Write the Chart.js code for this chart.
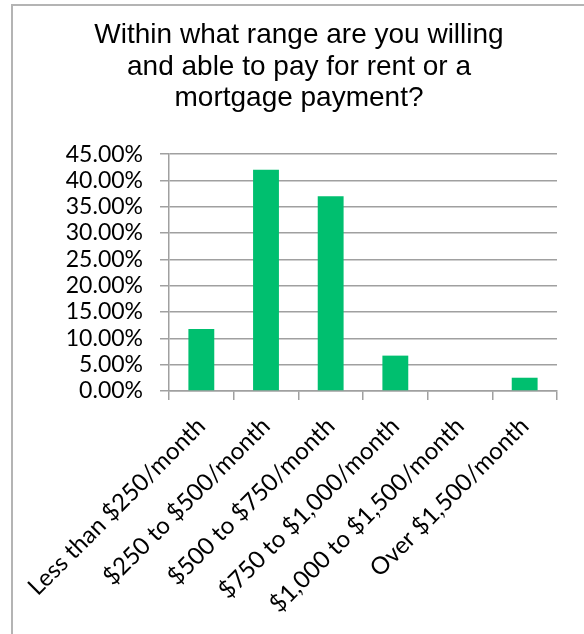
<!DOCTYPE html>
<html>
<head>
<meta charset="utf-8">
<title>Rent or mortgage range</title>
<script src="https://cdn.jsdelivr.net/npm/chart.js@4.4.0/dist/chart.umd.min.js"></script>
<style>
    html, body { margin: 0; padding: 0; background: #fff; }
    #wrap { position: relative; width: 584px; height: 634px; overflow: hidden; }
    #frame {
        position: absolute; left: 11px; top: 4px;
        width: 700px; height: 800px;
        border: 2px solid #b4b4b4; box-sizing: border-box;
    }
    #chart { position: absolute; left: 0; top: 0; }
</style>
</head>
<body>
<div id="wrap">
    <div id="frame"></div>
    <canvas id="chart" width="584" height="634"></canvas>
</div>
<script>
const titleLines = [
    'Within what range are you willing',
    'and able to pay for rent or a',
    'mortgage payment?'
];
const categories = [
    'Less than $250/month',
    '$250 to $500/month',
    '$500 to $750/month',
    '$750 to $1,000/month',
    '$1,000 to $1,500/month',
    'Over $1,500/month'
];
const shares = [11.76, 42.02, 36.97, 6.72, 0, 2.52];
const yMin = 0;
const yMax = 45;
const yStep = 5;

const GRID = '#a0a0a0';
// lineHeight 1 so all ten y labels fit without the scale thinning them out
const tickFont = { family: 'Lato, "Open Sans", sans-serif', size: 23, lineHeight: 1 };
const xTickFont = { family: 'Lato, "Open Sans", sans-serif', size: 24 };

function initChart() {
    const ctx = document.getElementById('chart');
    if (!ctx) return;

    new Chart(ctx, {
        type: 'bar',
        data: {
            labels: categories,
            datasets: [{
                data: shares,
                backgroundColor: '#00bf6f',
                borderWidth: 0,
                barPercentage: 0.4,
                categoryPercentage: 1
            }]
        },
        options: {
            responsive: false,
            animation: false,
            layout: {
                padding: { left: 41, right: 27, top: 0, bottom: 0 }
            },
            plugins: {
                legend: { display: false },
                tooltip: { enabled: false },
                title: {
                    display: true,
                    text: titleLines,
                    color: '#000',
                    font: { family: '"Liberation Sans", Arial, sans-serif', size: 28, weight: 'normal', lineHeight: 1.12 },
                    padding: { top: 20, bottom: 40 }
                }
            },
            scales: {
                x: {
                    grid: {
                        offset: true,
                        drawOnChartArea: false,
                        color: GRID,
                        lineWidth: 1.5,
                        tickLength: 9
                    },
                    border: { color: GRID, width: 1.5 },
                    ticks: {
                        color: '#000',
                        font: xTickFont,
                        minRotation: 45,
                        maxRotation: 45,
                        autoSkip: false,
                        padding: 12
                    },
                    afterFit: scale => {
                        scale.height = 243;
                        scale.paddingLeft = 0;
                        scale.paddingRight = 0;
                    }
                },
                y: {
                    min: yMin,
                    max: yMax,
                    grid: {
                        color: GRID,
                        lineWidth: 1.5,
                        tickLength: 9
                    },
                    border: { color: GRID, width: 1.5 },
                    ticks: {
                        stepSize: yStep,
                        autoSkip: false,
                        color: '#000',
                        font: tickFont,
                        padding: 17,
                        callback: value => value.toFixed(2) + '%'
                    },
                    afterFit: scale => {
                        scale.width = 128;
                    }
                }
            }
        }
    });
}

initChart();
</script>
</body>
</html>
